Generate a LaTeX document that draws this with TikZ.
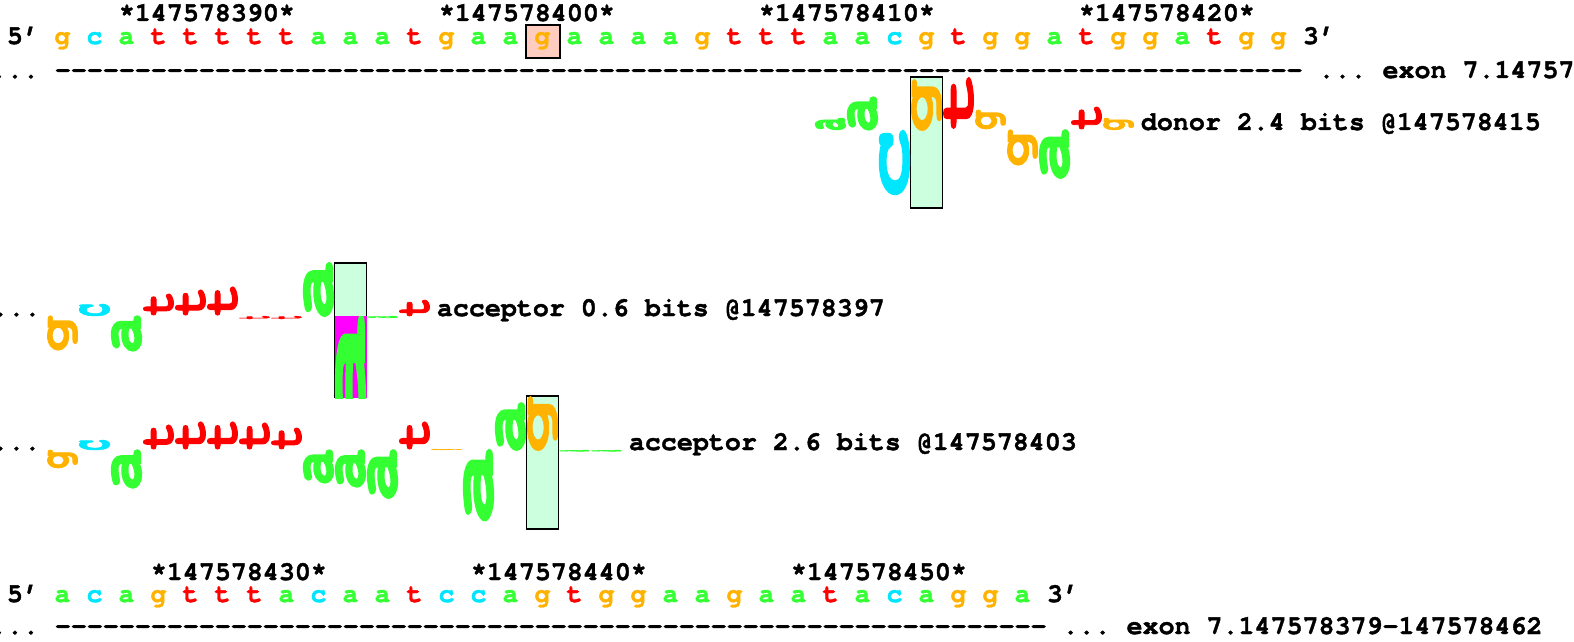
\documentclass[tikz,border=0pt]{standalone}
\usepackage{fontspec}
\usepackage{graphicx}
\setmonofont{texgyrecursor}[Extension=.otf, UprightFont=*-regular, BoldFont=*-bold, BoldFeatures={FakeBold=1.5}]
\newfontfamily\logofont{texgyrecursor}[Extension=.otf, UprightFont=*-bold, BoldFont=*-bold, UprightFeatures={FakeBold=2}]
\frenchspacing
\definecolor{cola}{RGB}{51,255,51}
\definecolor{colc}{RGB}{0,230,255}
\definecolor{colg}{RGB}{255,179,0}
\definecolor{colt}{RGB}{255,0,0}
\definecolor{boxgreen}{RGB}{204,255,221}
\definecolor{hlpink}{RGB}{255,204,192}
\definecolor{mag}{RGB}{255,0,255}
\newcommand{\monof}{\ttfamily\bfseries\fontsize{13.33}{16}\selectfont}
\tikzset{
  mono/.style={font=\monof, inner sep=0pt, anchor=base west},
  seqlet/.style={font=\monof, inner sep=0pt, anchor=base},
  logobox/.style={draw=black, line width=0.7pt, fill=boxgreen, inner sep=0pt, minimum width=16pt},
}
% ink-tight glyph box
\newdimen\inkL \newdimen\inkR \newdimen\inkT \newdimen\inkB
\newsavebox{\inkbox}
\newcommand{\inkglyph}[1]{%
  \sbox{\inkbox}{\logofont
    \global\inkL=\XeTeXglyphbounds1 \XeTeXcharglyph`#1\relax
    \global\inkR=\XeTeXglyphbounds3 \XeTeXcharglyph`#1\relax
    \global\inkT=\XeTeXglyphbounds2 \XeTeXcharglyph`#1\relax
    \global\inkB=\XeTeXglyphbounds4 \XeTeXcharglyph`#1\relax
    \kern-\inkL #1\kern-\inkR}%
  \ht\inkbox=\inkT \dp\inkbox=\inkB \usebox{\inkbox}}
% name, column, baseline (px), signed ink height (px), letter, colour
\newcommand{\logoL}[6]{%
  \pgfmathsetmacro{\lcx}{62.5+32*#2}%
  \pgfmathsetmacro{\lcy}{#3-(#4)/2}%
  \pgfmathsetmacro{\lhh}{max(abs(#4)*0.5,0.3)}%
  \node[inner sep=0pt, text=#6] (#1) at (\lcx,\lcy) {\resizebox*{15pt}{\lhh pt}{\rotatebox{90}{\inkglyph{#5}}}};%
}
\begin{document}
\begin{tikzpicture}[x=0.5pt,y=-0.5pt]
\path[use as bounding box] (0,0) rectangle (1574,642);
\clip (0,0) rectangle (1574,642);
% ---------- top sequence ----------
\node[mono] (n390) at (118.5,21) {*147578390*};
\node[mono] (n400) at (438.5,21) {*147578400*};
\node[mono] (n410) at (758.5,21) {*147578410*};
\node[mono] (n420) at (1078.5,21) {*147578420*};
\node[draw=black, line width=1.1pt, fill=hlpink, inner sep=0pt, minimum width=17pt, minimum height=16.5pt] (hl) at (543,41.5) {};
\node[mono] (t5) at (6.5,44) {5’};
\foreach \L [count=\i from 0] in {g,c,a,t,t,t,t,t,a,a,a,t,g,a,a,g,a,a,a,a,g,t,t,t,a,a,c,g,t,g,g,a,t,g,g,a,t,g,g}{
  \node[seqlet, text=col\L] (top\i) at ({62.5+32*\i},44) {\L};
}
\node[mono] (t3) at (1302.5,44) {3’};
\node[mono] (dash1) at (-9.5,78) {... ------------------------------------------------------------------------------ ... exon 7.147578379-147578462};
% ---------- donor ----------
\node[logobox, minimum height=65.5pt] (dbox) at (926.5,142.5) {};
\logoL{d24}{24}{130}{12}{a}{cola}
\logoL{d25}{25}{130}{33}{a}{cola}
\logoL{d26}{26}{131}{-63}{c}{colc}
\logoL{d27}{27}{130}{50}{g}{colg}
\logoL{d28}{28}{128}{50}{t}{colt}
\logoL{d29}{29}{129}{19}{g}{colg}
\logoL{d30}{30}{130}{-35}{g}{colg}
\logoL{d31}{31}{130}{-48}{a}{cola}
\logoL{d32}{32}{129}{22}{t}{colt}
\logoL{d33}{33}{130}{12}{g}{colg}
\node[mono] (dlab) at (1140.5,130) {donor 2.4 bits @147578415};
% ---------- acceptor 1 ----------
\node[mono] (a1dots) at (-8,316) {...};
\node[logobox, minimum height=67pt] (a1box) at (350.5,330) {};
\fill[mag] (334.5,316) rectangle (366.5,398);
\begin{scope}
  \clip (334.5,316) rectangle (366.5,398);
  \logoL{a1n9}{9}{316}{-130}{a}{cola}
\end{scope}
\logoL{a1n0}{0}{316}{-34}{g}{colg}
\logoL{a1n1}{1}{316}{12}{c}{colc}
\logoL{a1n2}{2}{316}{-35}{a}{cola}
\logoL{a1n3}{3}{315}{21}{t}{colt}
\logoL{a1n4}{4}{315}{25}{t}{colt}
\logoL{a1n5}{5}{315}{28}{t}{colt}
\logoL{a1n6}{6}{316}{-3}{t}{colt}
\logoL{a1n7}{7}{316}{-3}{t}{colt}
\logoL{a1n8}{8}{316}{53}{a}{cola}
\logoL{a1n10}{10}{316}{-2}{a}{cola}
\logoL{a1n11}{11}{316}{16}{t}{colt}
\node[mono] (a1lab) at (436.5,316) {acceptor 0.6 bits @147578397};
% ---------- acceptor 2 ----------
\node[mono] (a2dots) at (-8,450) {...};
\node[logobox, minimum height=66.5pt] (a2box) at (542.5,462.5) {};
\logoL{a2n0}{0}{450}{-18}{g}{colg}
\logoL{a2n1}{1}{450}{10}{c}{colc}
\logoL{a2n2}{2}{450}{-38}{a}{cola}
\logoL{a2n3}{3}{449}{24}{t}{colt}
\logoL{a2n4}{4}{449}{27}{t}{colt}
\logoL{a2n5}{5}{449}{27}{t}{colt}
\logoL{a2n6}{6}{449}{26}{t}{colt}
\logoL{a2n7}{7}{449}{21}{t}{colt}
\logoL{a2n8}{8}{450}{-33}{a}{cola}
\logoL{a2n9}{9}{450}{-37}{a}{cola}
\logoL{a2n10}{10}{450}{-48}{a}{cola}
\logoL{a2n11}{11}{449}{27}{t}{colt}
\logoL{a2n12}{12}{450}{1}{g}{colg}
\logoL{a2n13}{13}{450}{-70}{a}{cola}
\logoL{a2n14}{14}{450}{47}{a}{cola}
\logoL{a2n15}{15}{450}{53}{g}{colg}
\logoL{a2n16}{16}{450}{-1.5}{a}{cola}
\logoL{a2n17}{17}{450}{-1.5}{a}{cola}
\node[mono] (a2lab) at (628.5,450) {acceptor 2.6 bits @147578403};
% ---------- bottom sequence ----------
\node[mono] (n430) at (150.5,580) {*147578430*};
\node[mono] (n440) at (470.5,580) {*147578440*};
\node[mono] (n450) at (790.5,580) {*147578450*};
\node[mono] (b5) at (6.5,602) {5’};
\foreach \L [count=\i from 0] in {a,c,a,g,t,t,t,a,c,a,a,t,c,c,a,g,t,g,g,a,a,g,a,a,t,a,c,a,g,g,a}{
  \node[seqlet, text=col\L] (bot\i) at ({62.5+32*\i},602) {\L};
}
\node[mono] (b3) at (1046.5,602) {3’};
\node[mono] (dash2) at (-9.5,634) {... -------------------------------------------------------------- ... exon 7.147578379-147578462};
\end{tikzpicture}
\end{document}
